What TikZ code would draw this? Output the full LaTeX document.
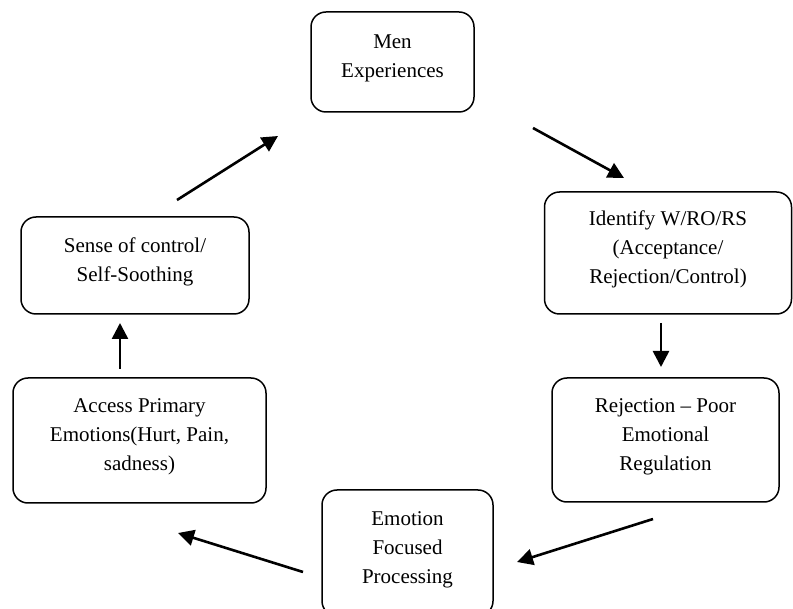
\documentclass[tikz,border=0pt]{standalone}
\usepackage{fontspec}
\setmainfont{Liberation Serif}
\usetikzlibrary{arrows.meta}

\tikzset{
  stagebox/.style={draw, line width=1.5pt, rounded corners=15pt, align=center,
    inner sep=0pt, text depth=11pt, font=\fontsize{21}{29}\selectfont},
  flow/.style={line width=2.6pt, -{Triangle[length=16pt,width=16pt]}}
}

\begin{document}
\begin{tikzpicture}[x=1pt,y=-1pt]
        \useasboundingbox (0,0) rectangle (793,609);

        % Stages of the cycle
        \node[stagebox, minimum width=163pt, minimum height=100pt] (men) at (392.5,62) {Men\\Experiences};
        \node[stagebox, minimum width=247pt, minimum height=122pt] (identify) at (668,253) {Identify W/RO/RS\\(Acceptance/\\Rejection/Control)};
        \node[stagebox, minimum width=227pt, minimum height=124pt] (rejection) at (665.5,440) {Rejection -- Poor\\Emotional\\Regulation};
        \node[stagebox, minimum width=171pt, minimum height=126pt] (emotion) at (407.5,553) {Emotion\\Focused\\Processing};
        \node[stagebox, minimum width=253pt, minimum height=125pt] (access) at (139.5,440.5) {Access Primary\\Emotions(Hurt, Pain,\\sadness)};
        \node[stagebox, minimum width=228pt, minimum height=97pt] (sense) at (135,265.5) {Sense of control/\\Self-Soothing};

        % Arrow ends
        \coordinate (men out) at (533,128);
        \coordinate (identify in) at (624,178);
        \coordinate (identify out) at (661,323);
        \coordinate (rejection in) at (661,367);
        \coordinate (rejection out) at (653,519);
        \coordinate (emotion in) at (517,562);
        \coordinate (emotion out) at (303,572);
        \coordinate (access in) at (178,533);
        \coordinate (access out) at (120,369);
        \coordinate (sense in) at (120,323);
        \coordinate (sense out) at (177,200);
        \coordinate (men in) at (278,136);

        % Arrows
        \draw[flow] (men out) -- (identify in);
        \draw[flow] (identify out) -- (rejection in);
        \draw[flow] (rejection out) -- (emotion in);
        \draw[flow] (emotion out) -- (access in);
        \draw[flow] (access out) -- (sense in);
        \draw[flow] (sense out) -- (men in);
\end{tikzpicture}
\end{document}
